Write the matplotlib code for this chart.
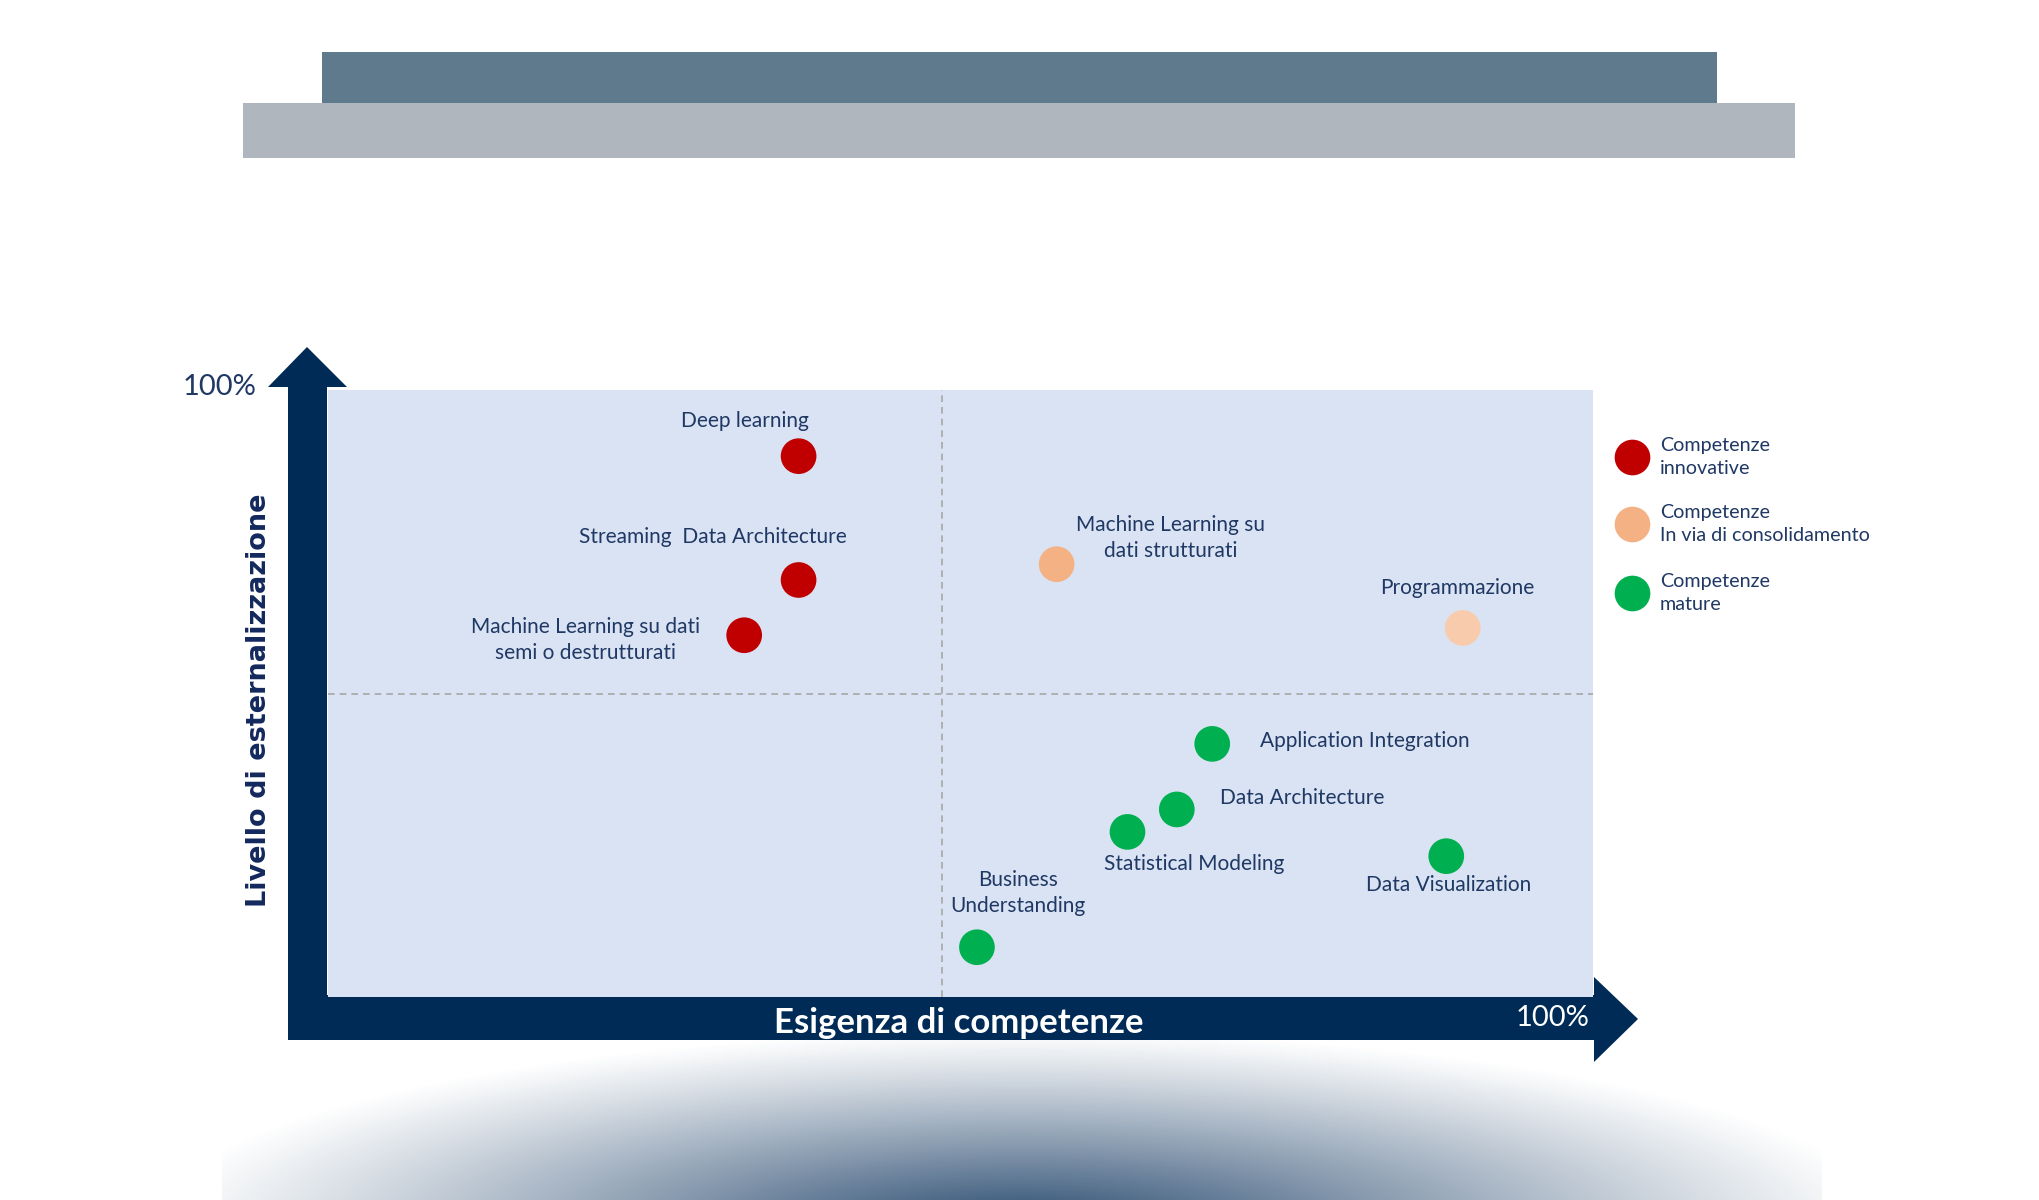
import numpy as np
import matplotlib
matplotlib.use("Agg")
import matplotlib.pyplot as plt
from matplotlib.patches import Polygon, Rectangle

# ---------------- data ----------------
skills = ["Deep learning", "Streaming  Data Architecture",
          "Machine Learning su dati\nsemi o destrutturati",
          "Machine Learning su\ndati strutturati", "Programmazione",
          "Application Integration", "Data Architecture",
          "Statistical Modeling", "Data Visualization",
          "Business\nUnderstanding"]
esigenza = [37.2, 37.2, 32.9, 57.6, 89.7, 69.9, 67.1, 63.2, 88.4, 51.3]
esternalizzazione = [89.1, 68.7, 59.6, 71.3, 60.8, 41.7, 30.9, 27.2, 23.2, 8.2]
categoria = ["innovative", "innovative", "innovative", "consolidamento",
             "consolidamento2", "mature", "mature", "mature", "mature", "mature"]

legend_labels = ["Competenze\ninnovative", "Competenze\nIn via di consolidamento",
                 "Competenze\nmature"]
x_label = "Esigenza di competenze"
y_label = "Livello di esternalizzazione"
max_label = "100%"
x_split = 48.5
y_split = 50

# ---------------- styles ----------------
colors = {"innovative": "#C00000", "consolidamento": "#F4B183",
          "consolidamento2": "#F8CBAD", "mature": "#00B050"}
legend_colors = ["#C00000", "#F4B183", "#00B050"]
# label offsets in pixels (dx, dy up), alignment
label_style = [(-54, 35, "center"), (-86, 43, "center"), (-159, -5, "center"),
               (114, 26, "center"), (-5, 40, "center"), (48, 3, "left"),
               (43, 11, "left"), (67, -32, "center"), (2, -29, "center"),
               (41, 54, "center")]

NAVY = "#002B57"
TXT = "#1F3864"
FONT = "Lato"

W, H = 2040, 1200
fig = plt.figure(figsize=(W / 100, H / 100), dpi=100)
fig.patch.set_facecolor("white")

# background / decoration axes in pixel coords
bg = fig.add_axes([0, 0, 1, 1], zorder=0)
bg.set_xlim(0, W)
bg.set_ylim(H, 0)
bg.axis("off")

# top bars
bg.add_patch(Rectangle((322, 52), 1717 - 322, 52, color="#5E7A8C", lw=0))
bg.add_patch(Rectangle((243, 103), 1795 - 243, 55, color="#AFB6BD", lw=0))

# bottom radial gradient (decoration)
gx = np.linspace(222, 1822, 800)
gy = np.linspace(1030, 1200, 140)
GX, GY = np.meshgrid(gx, gy)
t = np.sqrt(((GX - 1022) / 880) ** 2 + ((GY - 1230) / 200) ** 2)
alpha = np.clip(1 - t, 0, 1) ** 1.1
img = np.zeros((len(gy), len(gx), 4))
base = matplotlib.colors.to_rgb("#24466C")
img[..., 0], img[..., 1], img[..., 2] = base
img[..., 3] = alpha
bg.imshow(img, extent=(gx[0], gx[-1], gy[-1], gy[0]), aspect="auto",
          interpolation="bilinear", zorder=0)

# axis arrows (L shape)
bg.add_patch(Polygon([(288, 386), (327, 386), (327, 995), (1594, 995),
                      (1594, 977), (1638, 1019), (1594, 1062), (1594, 1040),
                      (288, 1040)], closed=True, color=NAVY, lw=0, zorder=2))
bg.add_patch(Polygon([(268, 387), (347, 387), (307, 347)], closed=True,
                     color=NAVY, lw=0, zorder=2))

bg.text(257, 387, max_label, ha="right", va="center", fontsize=21,
        color=TXT, family=FONT, zorder=3)
bg.text(1590, 1018, max_label, ha="right", va="center", fontsize=21,
        color="white", family=FONT, zorder=3)
bg.text(959, 1023, x_label, ha="center", va="center", fontsize=25,
        color="white", family=FONT, fontweight="bold", zorder=3)
bg.text(259, 700, y_label, ha="center", va="center", rotation=90,
        fontsize=19.5, color="#13285C", family="DejaVu Sans",
        fontweight="bold", zorder=3)

# legend
for i, (lab, c) in enumerate(zip(legend_labels, legend_colors)):
    yc = [457, 524, 593][i]
    bg.scatter([1632], [yc], s=660, color=c, zorder=3, linewidths=0)
    bg.text(1660, yc, lab, ha="left", va="center", fontsize=14.2,
            color=TXT, family=FONT, linespacing=1.4, zorder=3)

# ---------------- data axes ----------------
L, R, T, B = 328, 1593, 390, 997
ax = fig.add_axes([L / W, 1 - B / H, (R - L) / W, (B - T) / H], zorder=1)
ax.set_xlim(0, 100)
ax.set_ylim(0, 100)
ax.set_facecolor("#DAE3F3")
for s in ax.spines.values():
    s.set_visible(False)
ax.set_xticks([])
ax.set_yticks([])
ax.axvline(x_split, color="#A6A6A6", lw=1.2, ls=(0, (4, 3)))
ax.axhline(y_split, color="#A6A6A6", lw=1.2, ls=(0, (4, 3)))

ax.scatter(esigenza, esternalizzazione,
           c=[colors[k] for k in categoria], s=660, linewidths=0,
           zorder=3, clip_on=False)

for name, x, y, (dx, dy, ha) in zip(skills, esigenza, esternalizzazione,
                                    label_style):
    ax.annotate(name, (x, y), xytext=(dx * 0.72, dy * 0.72),
                textcoords="offset points", ha=ha, va="center",
                fontsize=15, color=TXT, family=FONT, linespacing=1.35,
                zorder=4)

fig.savefig("out.png", dpi=100, facecolor="white")
